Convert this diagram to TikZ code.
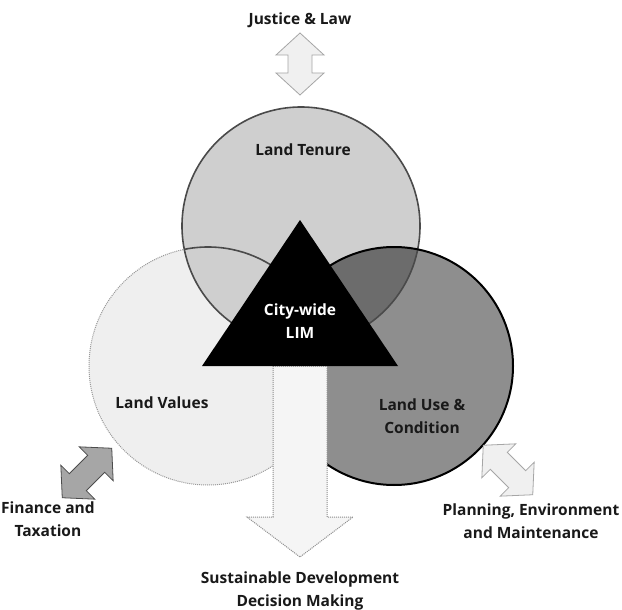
\documentclass[tikz,border=0pt]{standalone}
\usepackage{fontspec}
\setmainfont{Open Sans}

\definecolor{valuesgray}{HTML}{EFEFEF}
\definecolor{tenuregray}{HTML}{CFCFCF}
\definecolor{usegray}{HTML}{8E8E8E}
\definecolor{lensgray}{HTML}{6C6C6C}
\definecolor{edgegray}{HTML}{4A4A4A}

\tikzset{
  lbl/.style={font=\fontsize{15.5}{22.5}\selectfont\bfseries, align=center, text=black!90},
  lightarrow/.style={fill=black!6, draw=black!35, line width=0.8pt, line join=miter},
  darkarrow/.style={fill=black!35, draw=black!70, line width=0.8pt, line join=miter},
  twoway/.pic={
    \path[pic actions] (-#1,0) -- ({-#1+22},24) -- ({-#1+22},12) -- ({#1-22},12)
      -- ({#1-22},24) -- (#1,0) -- ({#1-22},-24) -- ({#1-22},-12)
      -- ({-#1+22},-12) -- ({-#1+22},-24) -- cycle;
  },
}

\begin{document}
\begin{tikzpicture}[x=1pt,y=-1pt]
      \fill[white] (0,0) rectangle (622,610);
      \useasboundingbox (0,0) rectangle (622,610);

      \coordinate (tenure) at (301,226);
      \coordinate (values) at (208,366);
      \coordinate (use) at (394,366);

      % the three circles
      \fill[valuesgray] (values) circle (119pt);
      \draw[black!40, densely dotted, line width=1pt] (values) circle (119pt);
      \fill[tenuregray] (tenure) circle (119pt);
      \fill[usegray] (use) circle (119pt);
      \begin{scope}
        \clip (tenure) circle (119pt);
        \fill[lensgray] (use) circle (119pt);
        \draw[edgegray, line width=1.6pt] (values) circle (119pt);
      \end{scope}
      \draw[edgegray, line width=1.6pt] (tenure) circle (119pt);
      \draw[black, line width=2pt] (use) circle (119pt);

      % output arrow and LIM triangle
      \draw[fill=black!4, draw=black!45, densely dotted, line width=1pt]
        (273,366) -- (273,517) -- (247,517) -- (300,557) -- (353,517)
        -- (327,517) -- (327,366) -- cycle;
      \fill[black] (300,220) -- (398,366) -- (202,366) -- cycle;

      % links to the outside
      \pic[lightarrow, rotate=90] at (300,64) {twoway=31};
      \pic[darkarrow, rotate=45] at (87,473) {twoway=35};
      \pic[lightarrow, rotate=-45] at (508,470) {twoway=35};

      \node[lbl] (tenurelbl) at (303,150) {Land Tenure};
      \node[lbl] (valueslbl) at (162,403) {Land Values};
      \node[lbl] (uselbl) at (422,416) {Land Use \&\\Condition};
      \node[lbl, text=white] (lim) at (300,321) {City-wide\\LIM};
      \node[lbl] (justice) at (300,20) {Justice \& Law};
      \node[lbl, anchor=west, inner sep=1pt] (finance) at (0,519) {Finance and\\Taxation};
      \node[lbl] (planning) at (531,521) {Planning, Environment\\and Maintenance};
      \node[lbl] (decision) at (300,591) {Sustainable Development\\Decision Making};
    \end{tikzpicture}
\end{document}
